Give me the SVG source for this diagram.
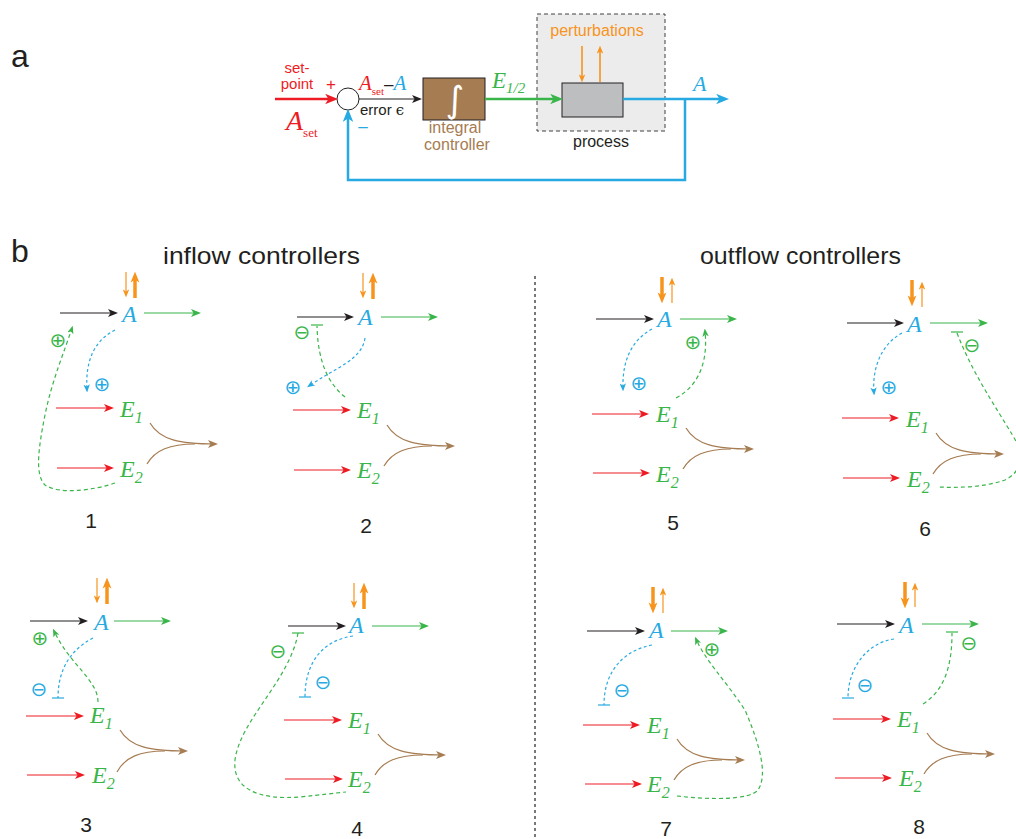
<svg xmlns="http://www.w3.org/2000/svg" width="1016" height="839" viewBox="0 0 1016 839">
<style>
.sans{font-family:"Liberation Sans","DejaVu Sans",sans-serif}
.it{font-family:"Liberation Serif","DejaVu Serif",serif;font-style:italic}
.A{fill:#27aae1;font-size:24px}
.E{fill:#39b54a;font-size:24px}
.sym{font-family:"DejaVu Sans",sans-serif;font-size:20px;text-anchor:middle}
.num{font-family:"Liberation Sans",sans-serif;font-size:21px;fill:#231f20;text-anchor:middle}
.blk{stroke:#231f20;stroke-width:1.2;fill:none}
.red{stroke:#ed1c24;stroke-width:1.2;fill:none}
.grn{stroke:#39b54a;stroke-width:1.2;fill:none}
.brn{stroke:#a67c52;stroke-width:1.2;fill:none}
.gd{stroke:#39b54a;stroke-width:1.2;fill:none;stroke-dasharray:4 3}
.bd{stroke:#27aae1;stroke-width:1.2;fill:none;stroke-dasharray:3 2.5}
.ot{stroke:#f7941d;stroke-width:1.2;fill:none}
.oT{stroke:#f7941d;stroke-width:3.5;fill:none}
</style>
<defs>
<marker id="mk" viewBox="0 0 10 8" refX="7" refY="4" markerWidth="10" markerHeight="8" markerUnits="userSpaceOnUse" orient="auto"><path d="M0,0 L10,4 L0,8 L2.5,4z" fill="#231f20"/></marker>
<marker id="mr" viewBox="0 0 10 8" refX="7" refY="4" markerWidth="10" markerHeight="8" markerUnits="userSpaceOnUse" orient="auto"><path d="M0,0 L10,4 L0,8 L2.5,4z" fill="#ed1c24"/></marker>
<marker id="mg" viewBox="0 0 10 8" refX="7" refY="4" markerWidth="10" markerHeight="8" markerUnits="userSpaceOnUse" orient="auto"><path d="M0,0 L10,4 L0,8 L2.5,4z" fill="#39b54a"/></marker>
<marker id="mb" viewBox="0 0 10 8" refX="7" refY="4" markerWidth="8" markerHeight="6.4" markerUnits="userSpaceOnUse" orient="auto"><path d="M0,0 L10,4 L0,8 L2.5,4z" fill="#27aae1"/></marker>
<marker id="mgs" viewBox="0 0 10 8" refX="7" refY="4" markerWidth="8" markerHeight="6.4" markerUnits="userSpaceOnUse" orient="auto"><path d="M0,0 L10,4 L0,8 L2.5,4z" fill="#39b54a"/></marker>
<marker id="mn" viewBox="0 0 10 8" refX="7" refY="4" markerWidth="10" markerHeight="8" markerUnits="userSpaceOnUse" orient="auto"><path d="M0,0 L10,4 L0,8 L2.5,4z" fill="#a67c52"/></marker>
<marker id="mos" viewBox="0 0 10 8" refX="7" refY="4" markerWidth="8" markerHeight="6.4" markerUnits="userSpaceOnUse" orient="auto"><path d="M0,0 L10,4 L0,8 L2.5,4z" fill="#f7941d"/></marker>
<marker id="mol" viewBox="0 0 10 8" refX="6" refY="4" markerWidth="11" markerHeight="10" markerUnits="userSpaceOnUse" orient="auto"><path d="M0,0 L10,4 L0,8 L2.5,4z" fill="#f7941d"/></marker>
<marker id="mrL" viewBox="0 0 10 8" refX="6" refY="4" markerWidth="13" markerHeight="10.4" markerUnits="userSpaceOnUse" orient="auto"><path d="M0,0 L10,4 L0,8 L2.5,4z" fill="#ed1c24"/></marker>
<marker id="mgL" viewBox="0 0 10 8" refX="6" refY="4" markerWidth="13" markerHeight="10.4" markerUnits="userSpaceOnUse" orient="auto"><path d="M0,0 L10,4 L0,8 L2.5,4z" fill="#39b54a"/></marker>
<marker id="mbL" viewBox="0 0 10 8" refX="6" refY="4" markerWidth="13" markerHeight="10.4" markerUnits="userSpaceOnUse" orient="auto"><path d="M0,0 L10,4 L0,8 L2.5,4z" fill="#27aae1"/></marker>
</defs>
<rect width="1016" height="839" fill="#ffffff"/>

<!-- section labels -->
<text x="11" y="67" class="sans" font-size="32" fill="#231f20">a</text>
<text x="11" y="262" class="sans" font-size="32" fill="#231f20">b</text>
<text x="163" y="264" class="sans" font-size="24" fill="#231f20" textLength="197" lengthAdjust="spacingAndGlyphs">inflow controllers</text>
<text x="700" y="264" class="sans" font-size="24" fill="#231f20" textLength="201" lengthAdjust="spacingAndGlyphs">outflow controllers</text>
<line x1="535" y1="276" x2="535" y2="839" stroke="#231f20" stroke-width="1.2" stroke-dasharray="3 3"/>

<!-- part a nodes -->
<g id="a-setpoint">
<text x="297" y="73" class="sans" font-size="15" fill="#ed1c24" text-anchor="middle">set-</text>
<text x="297" y="89" class="sans" font-size="15" fill="#ed1c24" text-anchor="middle">point</text>
<text x="331" y="90" class="sans" font-size="17" fill="#ed1c24" text-anchor="middle">+</text>
<text x="286" y="130" font-family="Liberation Serif,serif" font-style="italic" font-size="28" fill="#ed1c24">A<tspan font-style="normal" font-size="13" dy="7">set</tspan></text>
</g>
<g id="a-sum">
<circle cx="348" cy="99" r="11" fill="#ffffff" stroke="#231f20" stroke-width="1"/>
<text x="363" y="132" class="sans" font-size="17" fill="#27aae1" text-anchor="middle">–</text>
<text x="359" y="90" font-family="Liberation Serif,serif" font-style="italic" font-size="21" fill="#ed1c24">A<tspan font-size="11" font-style="normal" dy="5">set</tspan><tspan font-style="normal" font-family="Liberation Sans,sans-serif" fill="#231f20" dy="-5" font-size="17">–</tspan><tspan fill="#27aae1">A</tspan></text>
<text x="360" y="115" class="sans" font-size="15" fill="#231f20">error <tspan font-family="DejaVu Serif,serif">ϵ</tspan></text>
</g>
<g id="a-controller">
<rect x="423" y="78" width="62" height="42" fill="#a67c52" stroke="#231f20" stroke-width="1"/>
<text x="455" y="112" font-family="DejaVu Sans,sans-serif" font-size="36" fill="#ffffff" text-anchor="middle">∫</text>
<text x="455" y="133" class="sans" font-size="16" fill="#a67c52" text-anchor="middle">integral</text>
<text x="457" y="150" class="sans" font-size="16" fill="#a67c52" text-anchor="middle">controller</text>
</g>
<text x="492" y="88" font-family="Liberation Serif,serif" font-style="italic" font-size="23" fill="#39b54a">E<tspan font-size="15" dy="5">1/2</tspan></text>
<g id="a-process">
<rect x="537" y="14" width="128" height="117" fill="#ececec" stroke="#414042" stroke-width="1" stroke-dasharray="4 3"/>
<text x="597" y="36" class="sans" font-size="16" fill="#f7941d" text-anchor="middle">perturbations</text>
<rect x="562" y="83" width="61" height="34" fill="#bcbec0" stroke="#231f20" stroke-width="1"/>
<line x1="582" y1="46" x2="582" y2="80" stroke="#f7941d" stroke-width="1.6" marker-end="url(#mos)"/>
<line x1="600" y1="82" x2="600" y2="48" stroke="#f7941d" stroke-width="1.6" marker-end="url(#mos)"/>
<text x="601" y="147" class="sans" font-size="16" fill="#231f20" text-anchor="middle">process</text>
</g>
<text x="693" y="91" font-family="Liberation Serif,serif" font-style="italic" font-size="22" fill="#27aae1">A</text>

<g id="a-connectors">
<line x1="275" y1="99" x2="333" y2="99" stroke="#ed1c24" stroke-width="2.5" marker-end="url(#mrL)"/>
<line x1="359" y1="99" x2="419" y2="99" class="blk" marker-end="url(#mk)"/>
<line x1="485" y1="99" x2="558" y2="99" stroke="#39b54a" stroke-width="2.5" marker-end="url(#mgL)"/>
<line x1="623" y1="99" x2="724" y2="99" stroke="#27aae1" stroke-width="2.5" marker-end="url(#mbL)"/>
<path d="M685,99 L685,180 L348,180 L348,114" fill="none" stroke="#27aae1" stroke-width="2.5" marker-end="url(#mbL)"/>
</g>

<!-- panel nodes -->
<g id="p1">
<text x="122" y="322" class="it A">A</text>
<text x="120" y="417" class="it E">E<tspan font-size="16" dy="6">1</tspan></text>
<text x="120" y="477" class="it E">E<tspan font-size="16" dy="6">2</tspan></text>
<text x="58" y="347" class="sym" fill="#39b54a">⊕</text>
<text x="102" y="391" class="sym" fill="#27aae1">⊕</text>
<text x="91" y="528" class="num">1</text>
</g>
<g id="p2">
<text x="358" y="325" class="it A">A</text>
<text x="357" y="418" class="it E">E<tspan font-size="16" dy="6">1</tspan></text>
<text x="357" y="478" class="it E">E<tspan font-size="16" dy="6">2</tspan></text>
<text x="302" y="339" class="sym" fill="#39b54a">⊖</text>
<text x="293" y="394" class="sym" fill="#27aae1">⊕</text>
<text x="366" y="533" class="num">2</text>
</g>
<g id="p5">
<text x="657" y="327" class="it A">A</text>
<text x="656" y="422" class="it E">E<tspan font-size="16" dy="6">1</tspan></text>
<text x="656" y="482" class="it E">E<tspan font-size="16" dy="6">2</tspan></text>
<text x="639" y="390" class="sym" fill="#27aae1">⊕</text>
<text x="693" y="349" class="sym" fill="#39b54a">⊕</text>
<text x="673" y="530" class="num">5</text>
</g>
<g id="p6">
<text x="907" y="332" class="it A">A</text>
<text x="906" y="427" class="it E">E<tspan font-size="16" dy="6">1</tspan></text>
<text x="907" y="487" class="it E">E<tspan font-size="16" dy="6">2</tspan></text>
<text x="889" y="394" class="sym" fill="#27aae1">⊕</text>
<text x="972" y="352" class="sym" fill="#39b54a">⊖</text>
<text x="925" y="536" class="num">6</text>
</g>
<g id="p3">
<text x="94" y="630" class="it A">A</text>
<text x="90" y="723" class="it E">E<tspan font-size="16" dy="6">1</tspan></text>
<text x="92" y="783" class="it E">E<tspan font-size="16" dy="6">2</tspan></text>
<text x="40" y="645" class="sym" fill="#39b54a">⊕</text>
<text x="39" y="696" class="sym" fill="#27aae1">⊖</text>
<text x="86" y="832" class="num">3</text>
</g>
<g id="p4">
<text x="349" y="633" class="it A">A</text>
<text x="348" y="728" class="it E">E<tspan font-size="16" dy="6">1</tspan></text>
<text x="348" y="787" class="it E">E<tspan font-size="16" dy="6">2</tspan></text>
<text x="323" y="689" class="sym" fill="#27aae1">⊖</text>
<text x="278" y="658" class="sym" fill="#39b54a">⊖</text>
<text x="357" y="836" class="num">4</text>
</g>
<g id="p7">
<text x="649" y="638" class="it A">A</text>
<text x="647" y="733" class="it E">E<tspan font-size="16" dy="6">1</tspan></text>
<text x="647" y="792" class="it E">E<tspan font-size="16" dy="6">2</tspan></text>
<text x="622" y="697" class="sym" fill="#27aae1">⊖</text>
<text x="712" y="656" class="sym" fill="#39b54a">⊕</text>
<text x="666" y="836" class="num">7</text>
</g>
<g id="p8">
<text x="899" y="633" class="it A">A</text>
<text x="897" y="727" class="it E">E<tspan font-size="16" dy="6">1</tspan></text>
<text x="899" y="786" class="it E">E<tspan font-size="16" dy="6">2</tspan></text>
<text x="865" y="692" class="sym" fill="#27aae1">⊖</text>
<text x="969" y="650" class="sym" fill="#39b54a">⊖</text>
<text x="919" y="834" class="num">8</text>
</g>

<!-- connectors -->
<g id="connectors">
<!-- P1 -->
<line x1="126" y1="272" x2="126" y2="295" class="ot" marker-end="url(#mos)"/>
<line x1="135" y1="298" x2="135" y2="276" class="oT" marker-end="url(#mol)"/>
<line x1="60" y1="313" x2="115" y2="313" class="blk" marker-end="url(#mk)"/>
<line x1="144" y1="313" x2="198" y2="313" class="grn" marker-end="url(#mg)"/>
<line x1="56" y1="408" x2="111" y2="408" class="red" marker-end="url(#mr)"/>
<line x1="57" y1="468" x2="111" y2="468" class="red" marker-end="url(#mr)"/>
<path d="M150,423 C160,440 180,444 215,444" class="brn" marker-end="url(#mn)"/>
<path d="M147,464 C155,450 170,444 195,444" class="brn"/>
<path d="M115,330 C95,340 85,360 87,390" class="bd" marker-end="url(#mb)"/>
<path d="M115,483 C95,490 60,495 45,485 C35,475 38,450 45,415 C52,380 65,350 72,328" class="gd" marker-end="url(#mgs)"/>
<!-- P2 -->
<line x1="363" y1="273" x2="363" y2="296" class="ot" marker-end="url(#mos)"/>
<line x1="373" y1="299" x2="373" y2="277" class="oT" marker-end="url(#mol)"/>
<line x1="297" y1="317" x2="351" y2="317" class="blk" marker-end="url(#mk)"/>
<line x1="381" y1="317" x2="435" y2="317" class="grn" marker-end="url(#mg)"/>
<line x1="293" y1="410" x2="348" y2="410" class="red" marker-end="url(#mr)"/>
<line x1="294" y1="470" x2="348" y2="470" class="red" marker-end="url(#mr)"/>
<path d="M387,425 C397,442 417,446 452,446" class="brn" marker-end="url(#mn)"/>
<path d="M384,466 C392,452 407,446 432,446" class="brn"/>
<path d="M345,397 C330,385 318,365 317,326" class="gd"/>
<line x1="311" y1="325" x2="323" y2="325" stroke="#39b54a" stroke-width="1.2"/>
<path d="M365,338 C362,360 335,368 309,386" class="bd" marker-end="url(#mb)"/>
<!-- P5 -->
<line x1="662" y1="277" x2="662" y2="299" class="oT" marker-end="url(#mol)"/>
<line x1="672" y1="303" x2="672" y2="280" class="ot" marker-end="url(#mos)"/>
<line x1="596" y1="319" x2="651" y2="319" class="blk" marker-end="url(#mk)"/>
<line x1="680" y1="319" x2="734" y2="319" class="grn" marker-end="url(#mg)"/>
<line x1="592" y1="414" x2="646" y2="414" class="red" marker-end="url(#mr)"/>
<line x1="593" y1="473" x2="647" y2="473" class="red" marker-end="url(#mr)"/>
<path d="M686,428 C696,445 716,449 751,449" class="brn" marker-end="url(#mn)"/>
<path d="M683,469 C691,455 706,449 731,449" class="brn"/>
<path d="M652,329 C632,340 622,360 623,389" class="bd" marker-end="url(#mb)"/>
<path d="M676,398 C700,385 708,360 705,331" class="gd" marker-end="url(#mgs)"/>
<!-- P6 -->
<line x1="912" y1="280" x2="912" y2="302" class="oT" marker-end="url(#mol)"/>
<line x1="922" y1="307" x2="922" y2="284" class="ot" marker-end="url(#mos)"/>
<line x1="847" y1="323" x2="901" y2="323" class="blk" marker-end="url(#mk)"/>
<line x1="930" y1="323" x2="985" y2="323" class="grn" marker-end="url(#mg)"/>
<line x1="842" y1="418" x2="896" y2="418" class="red" marker-end="url(#mr)"/>
<line x1="843" y1="478" x2="897" y2="478" class="red" marker-end="url(#mr)"/>
<path d="M936,433 C946,450 966,454 1001,454" class="brn" marker-end="url(#mn)"/>
<path d="M933,474 C941,460 956,454 981,454" class="brn"/>
<path d="M902,333 C880,345 872,370 874,393" class="bd" marker-end="url(#mb)"/>
<path d="M957,333 C975,380 1005,420 1018,445 C1025,465 1015,475 1005,480 C985,487 960,488 938,487" class="gd"/>
<line x1="951" y1="332" x2="963" y2="332" stroke="#39b54a" stroke-width="1.2"/>
<!-- P3 -->
<line x1="97" y1="578" x2="97" y2="601" class="ot" marker-end="url(#mos)"/>
<line x1="107" y1="604" x2="107" y2="582" class="oT" marker-end="url(#mol)"/>
<line x1="30" y1="621" x2="85" y2="621" class="blk" marker-end="url(#mk)"/>
<line x1="114" y1="621" x2="168" y2="621" class="grn" marker-end="url(#mg)"/>
<line x1="26" y1="716" x2="81" y2="716" class="red" marker-end="url(#mr)"/>
<line x1="27" y1="775" x2="82" y2="775" class="red" marker-end="url(#mr)"/>
<path d="M120,730 C130,747 150,751 185,751" class="brn" marker-end="url(#mn)"/>
<path d="M117,772 C125,757 140,751 165,751" class="brn"/>
<path d="M98,702 C98,680 70,665 54,631" class="gd" marker-end="url(#mgs)"/>
<path d="M93,638 C70,650 58,670 58,698" class="bd"/>
<line x1="52" y1="698" x2="64" y2="698" stroke="#27aae1" stroke-width="1.2"/>
<!-- P4 -->
<line x1="354" y1="583" x2="354" y2="606" class="ot" marker-end="url(#mos)"/>
<line x1="364" y1="609" x2="364" y2="587" class="oT" marker-end="url(#mol)"/>
<line x1="288" y1="626" x2="343" y2="626" class="blk" marker-end="url(#mk)"/>
<line x1="372" y1="626" x2="426" y2="626" class="grn" marker-end="url(#mg)"/>
<line x1="284" y1="720" x2="339" y2="720" class="red" marker-end="url(#mr)"/>
<line x1="285" y1="779" x2="340" y2="779" class="red" marker-end="url(#mr)"/>
<path d="M378,734 C388,751 408,755 443,755" class="brn" marker-end="url(#mn)"/>
<path d="M375,775 C383,761 398,755 423,755" class="brn"/>
<path d="M353,636 C325,640 305,660 305,697" class="bd"/>
<line x1="299" y1="697" x2="311" y2="697" stroke="#27aae1" stroke-width="1.2"/>
<path d="M298,633 C290,680 240,720 235,760 C232,790 260,800 300,797 C320,795 335,793 346,792" class="gd"/>
<line x1="292" y1="633" x2="304" y2="633" stroke="#39b54a" stroke-width="1.2"/>
<!-- P7 -->
<line x1="653" y1="587" x2="653" y2="609" class="oT" marker-end="url(#mol)"/>
<line x1="663" y1="613" x2="663" y2="590" class="ot" marker-end="url(#mos)"/>
<line x1="587" y1="631" x2="642" y2="631" class="blk" marker-end="url(#mk)"/>
<line x1="671" y1="631" x2="725" y2="631" class="grn" marker-end="url(#mg)"/>
<line x1="583" y1="725" x2="637" y2="725" class="red" marker-end="url(#mr)"/>
<line x1="585" y1="784" x2="639" y2="784" class="red" marker-end="url(#mr)"/>
<path d="M677,739 C687,756 707,760 742,760" class="brn" marker-end="url(#mn)"/>
<path d="M674,780 C682,766 697,760 722,760" class="brn"/>
<path d="M652,645 C625,650 604,670 604,705" class="bd"/>
<line x1="598" y1="705" x2="610" y2="705" stroke="#27aae1" stroke-width="1.2"/>
<path d="M677,796 C710,800 750,800 758,790 C768,775 760,745 745,710 C725,680 705,660 696,639" class="gd" marker-end="url(#mgs)"/>
<!-- P8 -->
<line x1="905" y1="582" x2="905" y2="604" class="oT" marker-end="url(#mol)"/>
<line x1="915" y1="607" x2="915" y2="585" class="ot" marker-end="url(#mos)"/>
<line x1="837" y1="624" x2="892" y2="624" class="blk" marker-end="url(#mk)"/>
<line x1="922" y1="624" x2="976" y2="624" class="grn" marker-end="url(#mg)"/>
<line x1="833" y1="719" x2="888" y2="719" class="red" marker-end="url(#mr)"/>
<line x1="835" y1="778" x2="889" y2="778" class="red" marker-end="url(#mr)"/>
<path d="M927,733 C937,750 957,754 992,754" class="brn" marker-end="url(#mn)"/>
<path d="M924,774 C932,760 947,754 972,754" class="brn"/>
<path d="M894,639 C870,642 848,665 848,698" class="bd"/>
<line x1="842" y1="698" x2="854" y2="698" stroke="#27aae1" stroke-width="1.2"/>
<path d="M923,704 C945,690 952,665 952,633" class="gd"/>
<line x1="946" y1="632" x2="958" y2="632" stroke="#39b54a" stroke-width="1.2"/>
</g>
</svg>
